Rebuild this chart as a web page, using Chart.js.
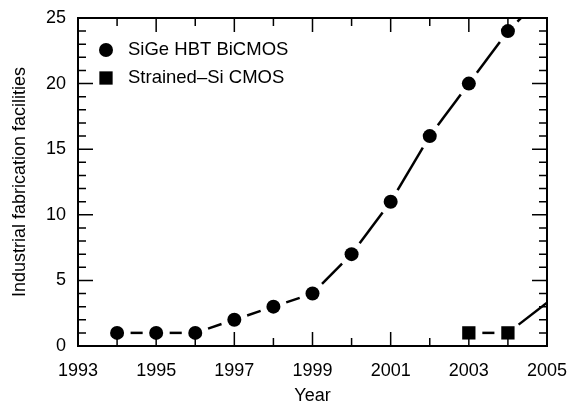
<!DOCTYPE html>
<html>
<head>
<meta charset="utf-8">
<title>Fabs</title>
<style>
  html, body { margin: 0; padding: 0; background: #fff; }
  #box { width: 569px; height: 408px; }
</style>
</head>
<body>
<div id="box"><canvas id="fabChart"></canvas></div>
<script src="https://cdn.jsdelivr.net/npm/chart.js"></script>
<script>
// fab counts per year
const sigeYears = [1994, 1995, 1996, 1997, 1998, 1999, 2000, 2001, 2002, 2003, 2004];
const sigeFabs = [1, 1, 1, 2, 3, 4, 7, 11, 16, 20, 24];
const strainedYears = [2003, 2004];
const strainedFabs = [1, 1];
// where the dashed trend lines run off the frame
const sigeTrendEnd = [2005, 27];
const strainedTrendEnd = [2005, 3.3];

const seriesNames = ['SiGe HBT BiCMOS', 'Strained\u2013Si CMOS'];
const xTickYears = [1993, 1995, 1997, 1999, 2001, 2003, 2005];
const yTicks = [0, 5, 10, 15, 20, 25];

const FONT = '"Liberation Sans", Arial, sans-serif';
const GAP = 13.5; // blank space kept around each marker

function toPoints(xs, ys) {
  return xs.map((x, i) => ({x: x, y: ys[i]}));
}

function segLen(ctx) {
  const dx = ctx.p1.x - ctx.p0.x, dy = ctx.p1.y - ctx.p0.y;
  return Math.sqrt(dx * dx + dy * dy);
}
function isLastSeg(ctx) {
  return ctx.p1DataIndex === ctx.chart.data.datasets[ctx.datasetIndex].data.length - 1;
}
// each segment: one dash in the middle, gaps next to markers;
// the last segment only starts with a gap and runs out of the frame
function segDash(ctx) {
  const L = segLen(ctx);
  if (isLastSeg(ctx)) return [L + 50, GAP];
  return [Math.max(L - 2 * GAP, 0.1), 2 * GAP];
}
function segOffset(ctx) {
  const L = segLen(ctx);
  if (isLastSeg(ctx)) return L + 50;
  return L - GAP;
}

const trendStyle = {
  showLine: true,
  borderColor: '#000',
  borderWidth: 2.5,
  pointRadius: 0,
  tension: 0,
  segment: { borderDash: segDash, borderDashOffset: segOffset }
};

// inward ticks on all four sides plus the frame
const frameTicks = {
  id: 'frameTicks',
  afterDraw(chart) {
    const c = chart.ctx, a = chart.chartArea;
    const xs = chart.scales.x, ys = chart.scales.y;
    c.save();
    c.strokeStyle = '#000';
    c.lineWidth = 1.5;
    c.beginPath();
    for (let yr = 1993; yr <= 2005; yr++) {
      const px = xs.getPixelForValue(yr);
      const len = xTickYears.includes(yr) ? 14 : 8;
      c.moveTo(px, a.bottom); c.lineTo(px, a.bottom - len);
      c.moveTo(px, a.top); c.lineTo(px, a.top + len);
    }
    for (let v = 0; v <= 25; v++) {
      const py = ys.getPixelForValue(v);
      const len = yTicks.includes(v) ? 15 : 8;
      c.moveTo(a.left, py); c.lineTo(a.left + len, py);
      c.moveTo(a.right, py); c.lineTo(a.right - len, py);
    }
    c.stroke();
    c.lineWidth = 2;
    c.strokeRect(a.left, a.top, a.right - a.left, a.bottom - a.top);
    c.restore();
  }
};

// legend in the upper left corner of the plot
const cornerLegend = {
  id: 'cornerLegend',
  afterDraw(chart) {
    const c = chart.ctx, a = chart.chartArea;
    const mx = a.left + 28, tx = a.left + 50;
    const rows = [a.top + 32, a.top + 60];
    c.save();
    c.fillStyle = '#000';
    Chart.helpers.drawPoint(c, {pointStyle: 'circle', radius: 7, borderWidth: 0}, mx, rows[0]);
    Chart.helpers.drawPoint(c, {pointStyle: 'rect', radius: 9.4, borderWidth: 0}, mx, rows[1]);
    c.font = '18.5px ' + FONT;
    c.textBaseline = 'middle';
    c.textAlign = 'left';
    c.fillText(seriesNames[0], tx, rows[0]);
    c.fillText(seriesNames[1], tx, rows[1]);
    c.restore();
  }
};

new Chart(document.getElementById('fabChart'), {
  type: 'scatter',
  data: {
    datasets: [
      Object.assign({ label: 'sige trend', order: 2,
        data: toPoints(sigeYears.concat(sigeTrendEnd[0]), sigeFabs.concat(sigeTrendEnd[1])) }, trendStyle),
      Object.assign({ label: 'strained trend', order: 2,
        data: toPoints(strainedYears.concat(strainedTrendEnd[0]), strainedFabs.concat(strainedTrendEnd[1])) }, trendStyle),
      {
        label: seriesNames[0], order: 1,
        data: toPoints(sigeYears, sigeFabs),
        pointStyle: 'circle', pointRadius: 7, pointHoverRadius: 7,
        backgroundColor: '#000', borderWidth: 0
      },
      {
        label: seriesNames[1], order: 1,
        data: toPoints(strainedYears, strainedFabs),
        pointStyle: 'rect', pointRadius: 9.4, pointHoverRadius: 9.4,
        backgroundColor: '#000', borderWidth: 0
      }
    ]
  },
  options: {
    responsive: true,
    maintainAspectRatio: false,
    animation: false,
    events: [],
    layout: { padding: { top: 18, right: 22, left: 0, bottom: 0 } },
    plugins: { legend: { display: false }, tooltip: { enabled: false } },
    scales: {
      x: {
        type: 'linear', min: 1993, max: 2005,
        // fixed height, and no extra room asked for the end labels
        afterFit(s) { s.height = 62; s.paddingLeft = 0; s.paddingRight = 0; },
        grid: { display: false, drawTicks: false },
        border: { display: false },
        ticks: {
          stepSize: 1, autoSkip: false, maxRotation: 0, padding: 14,
          color: '#000', font: { family: FONT, size: 18 },
          callback: v => xTickYears.includes(v) ? String(v) : ''
        },
        title: {
          display: true, text: 'Year', color: '#000',
          font: { family: FONT, size: 18 }, padding: { top: 0, bottom: 1 }
        }
      },
      y: {
        type: 'linear', min: 0, max: 25,
        afterFit(s) { s.width = 78; s.paddingTop = 0; s.paddingBottom = 0; },
        grid: { display: false, drawTicks: false },
        border: { display: false },
        ticks: {
          stepSize: 5, padding: 12, color: '#000',
          font: { family: FONT, size: 18 }
        },
        title: {
          display: true, text: 'Industrial fabrication facilities', color: '#000',
          font: { family: FONT, size: 18 }, padding: { top: 9, bottom: 0 }
        }
      }
    }
  },
  plugins: [frameTicks, cornerLegend]
});
</script>
</body>
</html>
